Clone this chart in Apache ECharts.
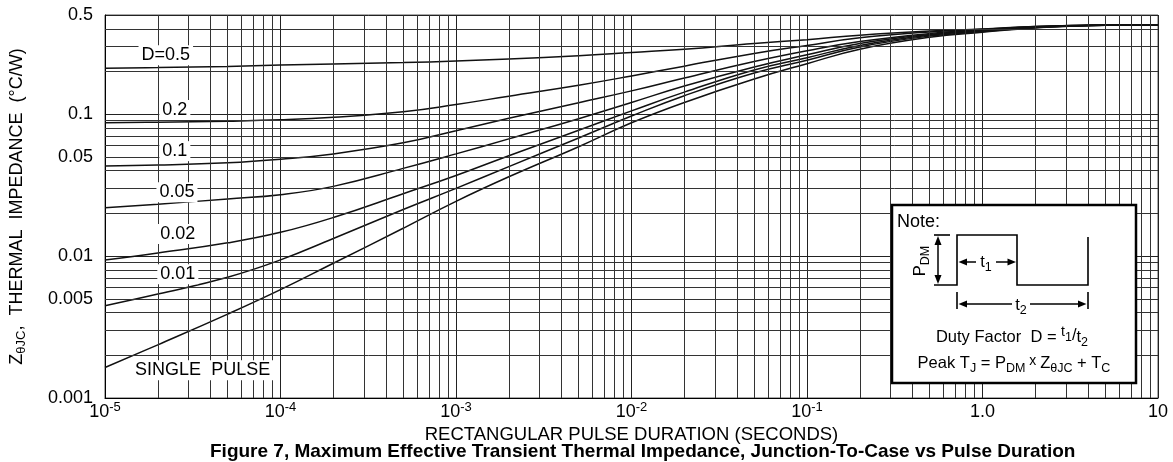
<!DOCTYPE html>
<html><head><meta charset="utf-8">
<script src="https://cdn.jsdelivr.net/npm/echarts@6/dist/echarts.min.js"></script>
<style>html,body{margin:0;padding:0;background:#fff}#c{width:1173px;height:462px}</style>
</head><body><div id="c"></div>
<script>
// ---- data ----
const pulseDuration = [1e-5, 2e-5, 5e-5, 1e-4, 2e-4, 5e-4, 1e-3, 2e-3, 5e-3, 1e-2, 2e-2, 5e-2, 0.1, 0.2, 0.5, 1, 2, 5, 10];
const zD050 = [0.211, 0.213, 0.217, 0.222, 0.226, 0.231, 0.237, 0.245, 0.258, 0.272, 0.287, 0.315, 0.335, 0.360, 0.385, 0.398, 0.415, 0.425, 0.426];
const zD020 = [0.0872, 0.0878, 0.0893, 0.0912, 0.095, 0.104, 0.117, 0.134, 0.160, 0.186, 0.218, 0.268, 0.305, 0.345, 0.380, 0.396, 0.415, 0.425, 0.426];
const zD010 = [0.0432, 0.0438, 0.0455, 0.0482, 0.0525, 0.0628, 0.0765, 0.0936, 0.1206, 0.146, 0.180, 0.235, 0.280, 0.325, 0.370, 0.392, 0.413, 0.424, 0.426];
const zD005 = [0.0219, 0.0232, 0.0253, 0.0271, 0.031, 0.0415, 0.0525, 0.067, 0.093, 0.121, 0.158, 0.215, 0.262, 0.315, 0.365, 0.390, 0.412, 0.424, 0.426];
const zD002 = [0.00938, 0.0105, 0.0124, 0.0147, 0.0187, 0.0275, 0.037, 0.051, 0.077, 0.1055, 0.143, 0.205, 0.250, 0.305, 0.360, 0.386, 0.410, 0.424, 0.426];
const zD001 = [0.00447, 0.0054, 0.0071, 0.0094, 0.0133, 0.0213, 0.030, 0.0427, 0.068, 0.097, 0.135, 0.195, 0.240, 0.298, 0.355, 0.382, 0.407, 0.424, 0.426];
const zSingle = [0.00164, 0.00237, 0.0039, 0.0058, 0.0089, 0.0157, 0.0243, 0.0362, 0.059, 0.087, 0.121, 0.177, 0.227, 0.287, 0.348, 0.378, 0.405, 0.424, 0.426];
const curveNames = ['D=0.5', '0.2', '0.1', '0.05', '0.02', '0.01', 'SINGLE  PULSE'];
const xTickLabels = ['10^-5', '10^-4', '10^-3', '10^-2', '10^-1', '1.0', '10'];
const yTickValues = [0.001, 0.005, 0.01, 0.05, 0.1, 0.5];
const yTickLabels = ['0.001', '0.005', '0.01', '0.05', '0.1', '0.5'];

const FONT = "'Liberation Sans', Arial, Helvetica, sans-serif";
const chart = echarts.init(document.getElementById('c'), null, {renderer: 'canvas'});

// minor grid values (2..9 per decade)
const minorX = [];
for (let k = -5; k <= 0; k++) for (let m = 2; m <= 9; m++) minorX.push(m * Math.pow(10, k));
const minorY = [];
for (let k = -3; k <= -1; k++) for (let m = 2; m <= 9; m++) { const v = m * Math.pow(10, k); if (v < 0.5) minorY.push(v); }

const seriesValues = [zD050, zD020, zD010, zD005, zD002, zD001, zSingle];
// label anchors in data space
const labelAnchor = [[2.22e-5, 0.26], [2.5e-5, 0.107], [2.5e-5, 0.0549], [2.57e-5, 0.0282], [2.6e-5, 0.0143], [2.6e-5, 0.00746], [3.6e-5, 0.00157]];

const series = [{
  type: 'line', name: 'grid', data: [], z: 1, silent: true,
  markLine: {
    silent: true, symbol: ['none', 'none'], animation: false, precision: 12,
    label: {show: false},
    lineStyle: {color: '#333', width: 1, type: 'solid'},
    emphasis: {disabled: true},
    data: minorX.map(v => ({xAxis: v})).concat(minorY.map(v => ({yAxis: v})))
  }
}];
seriesValues.forEach((vals, i) => {
  series.push({
    type: 'line', name: curveNames[i], z: 3,
    data: pulseDuration.map((t, j) => [t, vals[j]]),
    showSymbol: false, smooth: 0.45,
    lineStyle: {color: '#111', width: 1.5},
    emphasis: {disabled: true},
    markPoint: {
      symbol: 'circle', symbolSize: 1, itemStyle: {color: 'rgba(0,0,0,0)'},
      silent: true, animation: false,
      label: {show: true, position: 'inside', formatter: curveNames[i], color: '#000',
        fontSize: 18, fontFamily: FONT, backgroundColor: '#fff', padding: [1, 3]},
      data: [{coord: labelAnchor[i]}]
    }
  });
});

const NS = 16.5;
const noteRich = {
  n: {fontSize: NS, fontFamily: FONT, color: '#000', lineHeight: 24, verticalAlign: 'middle'},
  s: {fontSize: 12.5, fontFamily: FONT, color: '#000', lineHeight: 24, verticalAlign: 'bottom'},
  up: {fontSize: 14, fontFamily: FONT, color: '#000', lineHeight: 24, verticalAlign: 'top'},
  ups: {fontSize: 12.5, fontFamily: FONT, color: '#000', lineHeight: 24, verticalAlign: 'top', padding: [6, 0, 0, 0]},
  sl: {fontSize: NS, fontFamily: FONT, color: '#000', lineHeight: 24, verticalAlign: 'top', padding: [2, 0, 0, 0]},
  lo: {fontSize: NS, fontFamily: FONT, color: '#000', lineHeight: 24, verticalAlign: 'bottom', padding: [0, 0, 3, 0]},
  x: {fontSize: 14, fontFamily: FONT, color: '#000', lineHeight: 24, verticalAlign: 'middle', padding: [0, 0, 3, 0]}
};

const option = {
  animation: false,
  backgroundColor: '#fff',
  textStyle: {fontFamily: FONT},
  title: {
    text: 'Figure 7, Maximum Effective Transient Thermal Impedance, Junction-To-Case vs Pulse Duration',
    left: 205, top: 437,
    textStyle: {fontSize: 19, fontWeight: 'bold', color: '#000', fontFamily: FONT, lineHeight: 20}
  },
  grid: {left: 104, right: 15, top: 15, bottom: 64, show: true, borderColor: '#555', borderWidth: 1, containLabel: false},
  xAxis: {
    type: 'log', logBase: 10, min: 1e-5, max: 10, splitNumber: 6,
    axisLine: {show: true, lineStyle: {color: '#000', width: 1}},
    axisTick: {show: false},
    splitLine: {show: true, lineStyle: {color: '#222', width: 1}},
    axisLabel: {
      margin: 3, showMinLabel: true, showMaxLabel: true,
      formatter: function (v) {
        const e = Math.round(Math.log10(v));
        const lab = xTickLabels[e + 5] || '';
        const p = lab.split('^');
        return p.length > 1 ? '{b|' + p[0] + '}{s|' + p[1] + '}' : '{b|' + lab + '}';
      },
      rich: {
        b: {fontSize: 18, fontFamily: FONT, color: '#000', lineHeight: 22, verticalAlign: 'middle'},
        s: {fontSize: 13, fontFamily: FONT, color: '#000', lineHeight: 13, verticalAlign: 'top'}
      }
    },
    name: 'RECTANGULAR PULSE DURATION (SECONDS)', nameLocation: 'middle', nameGap: 23,
    nameTextStyle: {fontSize: 18.5, color: '#000', fontFamily: FONT}
  },
  yAxis: {
    type: 'log', logBase: 10, min: 0.001, max: 0.5,
    axisLine: {show: true, lineStyle: {color: '#000', width: 1}},
    axisTick: {show: false},
    splitLine: {show: true, lineStyle: {color: '#222', width: 1}},
    axisLabel: {
      customValues: yTickValues, margin: 12, fontSize: 18, color: '#000', fontFamily: FONT,
      formatter: function (v) {
        let best = 0, bd = Infinity;
        yTickValues.forEach((t, i) => { const d = Math.abs(Math.log10(t) - Math.log10(v)); if (d < bd) { bd = d; best = i; } });
        return yTickLabels[best];
      }
    },
    name: '{n|Z}{s|θJC}{n|,  THERMAL  IMPEDANCE  (°C/W)}', nameLocation: 'middle', nameGap: 77, nameRotate: 90,
    nameTextStyle: {
      color: '#000', fontFamily: FONT,
      rich: {
        n: {fontSize: 18, fontFamily: FONT, color: '#000', lineHeight: 22, verticalAlign: 'middle'},
        s: {fontSize: 13, fontFamily: FONT, color: '#000', lineHeight: 22, verticalAlign: 'bottom'}
      }
    }
  },
  series: series,
  graphic: [
    {type: 'rect', z: 100, shape: {x: 892, y: 205, width: 244, height: 178}, style: {fill: '#fff', stroke: '#000', lineWidth: 2.5}},
    {type: 'text', z: 101, x: 897, y: 213, style: {text: 'Note:', font: '18px ' + FONT, fill: '#000'}},
    {type: 'polyline', z: 101, shape: {points: [[934, 285], [957, 285], [957, 235], [1017, 235], [1017, 285], [1088, 285], [1088, 237]]}, style: {stroke: '#000', lineWidth: 1.6, fill: null}},
    {type: 'line', z: 101, shape: {x1: 934, y1: 235, x2: 950, y2: 235}, style: {stroke: '#000', lineWidth: 1.6}},
    {type: 'line', z: 101, shape: {x1: 938, y1: 242, x2: 938, y2: 278}, style: {stroke: '#000', lineWidth: 1.5}},
    {type: 'polygon', z: 101, shape: {points: [[938, 236], [934.5, 245], [941.5, 245]]}, style: {fill: '#000'}},
    {type: 'polygon', z: 101, shape: {points: [[938, 284], [934.5, 275], [941.5, 275]]}, style: {fill: '#000'}},
    {type: 'text', z: 101, x: 920, y: 261, rotation: Math.PI / 2,
      style: {text: '{n|P}{s|DM}', align: 'center', verticalAlign: 'middle', rich: noteRich}},
    {type: 'line', z: 101, shape: {x1: 962, y1: 262, x2: 976, y2: 262}, style: {stroke: '#000', lineWidth: 1.5}},
    {type: 'polygon', z: 101, shape: {points: [[958.5, 262], [967, 258.5], [967, 265.5]]}, style: {fill: '#000'}},
    {type: 'line', z: 101, shape: {x1: 996, y1: 262, x2: 1010, y2: 262}, style: {stroke: '#000', lineWidth: 1.5}},
    {type: 'polygon', z: 101, shape: {points: [[1016, 262], [1007.5, 258.5], [1007.5, 265.5]]}, style: {fill: '#000'}},
    {type: 'text', z: 101, x: 986, y: 262, style: {text: '{n|t}{s|1}', align: 'center', verticalAlign: 'middle', rich: noteRich}},
    {type: 'line', z: 101, shape: {x1: 957, y1: 292, x2: 957, y2: 309}, style: {stroke: '#000', lineWidth: 1.6}},
    {type: 'line', z: 101, shape: {x1: 1088, y1: 292, x2: 1088, y2: 309}, style: {stroke: '#000', lineWidth: 1.6}},
    {type: 'line', z: 101, shape: {x1: 962, y1: 304, x2: 1012, y2: 304}, style: {stroke: '#000', lineWidth: 1.5}},
    {type: 'polygon', z: 101, shape: {points: [[958.5, 304], [967, 300.5], [967, 307.5]]}, style: {fill: '#000'}},
    {type: 'line', z: 101, shape: {x1: 1030, y1: 304, x2: 1081, y2: 304}, style: {stroke: '#000', lineWidth: 1.5}},
    {type: 'polygon', z: 101, shape: {points: [[1086.5, 304], [1078, 300.5], [1078, 307.5]]}, style: {fill: '#000'}},
    {type: 'text', z: 101, x: 1021, y: 305, style: {text: '{n|t}{s|2}', align: 'center', verticalAlign: 'middle', rich: noteRich}},
    {type: 'text', z: 101, x: 1012, y: 337,
      style: {text: '{n|Duty Factor  D = }{up|t}{ups|1}{sl|/}{lo|t}{s|2}', align: 'center', verticalAlign: 'middle', rich: noteRich}},
    {type: 'text', z: 101, x: 1014, y: 363,
      style: {text: '{n|Peak T}{s|J}{n| = P}{s|DM}{x| x }{n|Z}{s|θJC}{n| + T}{s|C}', align: 'center', verticalAlign: 'middle', rich: noteRich}}
  ]
};
chart.setOption(option);
</script>
</body></html>
